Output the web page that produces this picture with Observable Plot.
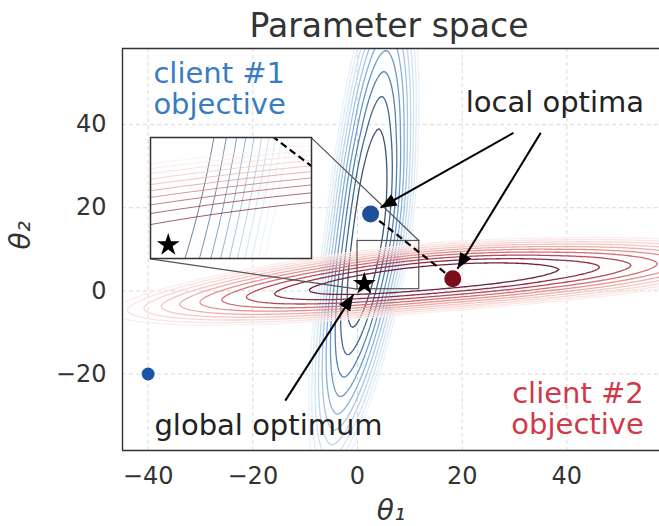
<!DOCTYPE html>
<html>
<head>
<meta charset="utf-8">
<script src="https://cdn.jsdelivr.net/npm/d3@7"></script>
<script src="https://cdn.jsdelivr.net/npm/@observablehq/plot@0.6"></script>
<style>
  body { margin: 0; background: #fff; }
  #wrap { position: relative; width: 659px; height: 526px; overflow: hidden; }
</style>
</head>
<body>
<div id="wrap"></div>
<script>
// ---- axes ----
const xDomain = [-44.9, 57.7];
const yDomain = [-38.4, 58.3];
const xTicks = [-40, -20, 0, 20, 40];
const yTicks = [-20, 0, 20, 40];

// ---- objective contours (levels and colours, inner -> outer) ----
const levels = [1, 1.63, 2.26, 2.89, 3.52, 4.15, 4.78, 5.41, 6.04, 6.67];
const client1Colors = ["#3b5676", "#426a93", "#5282b2", "#6a9bc9", "#86b2da", "#a3c6e5", "#bcd7ed", "#d0e3f3", "#deecf7", "#eaf2fa"];
const client2Colors = ["#6e2240", "#8d2f48", "#b44a5a", "#d26f75", "#e4918f", "#efaeaa", "#f5c6c2", "#f8d6d3", "#fae3e1", "#fcedec"];

// ---- shape of the two objectives ----
const client1Center = [2.1, 15.0];   // elongated along theta2
const client2Center = [14.5, 3.2];   // elongated along theta1
const majorSpread = [23.8, 0.0175, 23]; // sigma, stretch rate, stretch start
const minorSpread = [2.9, 1.8];          // sigma, exponent
const bend = [0.105, 0.035, 10];         // slope, curvature, width

// ---- points ----
const initialPoint = [[-40, -20]];
const localOptima = [[2.5, 18.5], [18.2, 2.9]];
const optimaColors = ["#1f4e9b", "#7a0c1e"];
const globalOptimum = [[1.3, 1.7]];

// ---- zoom box and inset placement (data coords) ----
const zoomX = [0, 11.8];
const zoomY = [0.4, 12];
const insetX = [-39.6, -8.8];
const insetY = [7.7, 36.8];

// ---- annotations ----
const arrowFrom = [[29.8, 38.0], [35.0, 38.0], [-13.8, -26.4]];
const arrowTo = [[4.4, 20.0], [19.1, 5.3], [-0.8, -0.9]];
const labels = ["client #1\nobjective", "client #2\nobjective", "local optima", "global optimum"];
const labelPos = [[-39.0, 48.6], [54.7, -28.3], [37.7, 45.3], [-17.0, -32.4]];
const labelAnchor = ["start", "end", "middle", "middle"];
const labelColors = ["#3a7cc2", "#d0394a", "#222", "#222"];

function objective(center, vertical) {
  const [s, rate, start] = majorSpread;
  const [sv, p] = minorSpread;
  const [m, d, w] = bend;
  return (x, y) => {
    const u = vertical ? y - center[1] : x - center[0];
    const v0 = vertical ? x - center[0] : y - center[1];
    const v = v0 - (m * u - d * (Math.hypot(u, w) - w));
    const g = (u / s) ** 2 - (u > start ? rate * (u - start) : 0);
    return g + Math.pow(Math.abs(v) / sv, p);
  };
}
const f1 = objective(client1Center, true);
const f2 = objective(client2Center, false);

function contours(f, colors, ext, sw, op) {
  return levels.map((l, i) => Plot.contour({
    x1: ext[0], x2: ext[1], y1: ext[2], y2: ext[3],
    value: f, thresholds: [l], fill: "none",
    stroke: colors[i], strokeWidth: sw, strokeOpacity: op, clip: true
  })).reverse();
}

const fmt = d => d < 0 ? "\u2212" + Math.abs(d) : String(d);
const zoomBox = [{x1: zoomX[0], x2: zoomX[1], y1: zoomY[0], y2: zoomY[1]}];
const connectors = [
  {x1: insetX[0], y1: insetY[0], x2: zoomX[0], y2: zoomY[0]},
  {x1: insetX[1], y1: insetY[1], x2: zoomX[1], y2: zoomY[1]}
];
const dashed = [{x1: localOptima[0][0], y1: localOptima[0][1], x2: localOptima[1][0], y2: localOptima[1][1]}];
const arrows = d3.zip(arrowFrom, arrowTo);
const annos = labels.map((t, i) => ({t, x: labelPos[i][0], y: labelPos[i][1], a: labelAnchor[i], c: labelColors[i]}));
// sample the objectives beyond the frame so that no contour closes along an edge
const extMain = [xDomain[0] - 15, xDomain[1] + 15, yDomain[0] - 15, yDomain[1] + 15];
const extZoom = [zoomX[0] - 3, zoomX[1] + 3, zoomY[0] - 3, zoomY[1] + 3];

const annoMarks = ["start", "middle", "end"].map(a => Plot.text(annos.filter(d => d.a === a), {
  x: "x", y: "y", text: "t", textAnchor: a, fill: "c", fontSize: 29, lineHeight: 1.07
}));

const mainPlot = Plot.plot({
  width: 659, height: 526,
  marginLeft: 122, marginRight: 0, marginTop: 48, marginBottom: 76,
  style: {fontFamily: "DejaVu Sans", background: "white", overflow: "visible"},
  x: {domain: xDomain, label: null},
  y: {domain: yDomain, label: null},
  marks: [
    Plot.gridX(xTicks, {stroke: "#cfcfcf", strokeOpacity: 1, strokeWidth: 0.8, strokeDasharray: "4,3"}),
    Plot.gridY(yTicks, {stroke: "#cfcfcf", strokeOpacity: 1, strokeWidth: 0.8, strokeDasharray: "4,3"}),
    ...contours(f1, client1Colors, extMain, 1.3, 1),
    ...contours(f2, client2Colors, extMain, 1.3, 1),
    Plot.rect(zoomBox, {x1: "x1", x2: "x2", y1: "y1", y2: "y2", fill: "none", stroke: "#555", strokeWidth: 1.2}),
    Plot.link(connectors, {x1: "x1", y1: "y1", x2: "x2", y2: "y2", stroke: "#555", strokeWidth: 1.2}),
    Plot.link(dashed, {x1: "x1", y1: "y1", x2: "x2", y2: "y2", stroke: "black", strokeWidth: 2.2, strokeDasharray: "7,4"}),
    Plot.dot(initialPoint, {x: d => d[0], y: d => d[1], r: 6.5, fill: "#1a55a6"}),
    Plot.dot(localOptima, {x: d => d[0], y: d => d[1], r: 8.5, fill: (d, i) => optimaColors[i]}),
    Plot.dot(globalOptimum, {x: d => d[0], y: d => d[1], r: 7.2, symbol: "star", fill: "black"}),
    Plot.link(arrows, {x1: d => d[0][0], y1: d => d[0][1], x2: d => d[1][0], y2: d => d[1][1], stroke: "black", strokeWidth: 2, markerEnd: "arrow"}),
    ...annoMarks,
    Plot.text(["Parameter space"], {frameAnchor: "top", lineAnchor: "middle", dx: -2, dy: -22, fontSize: 33, fill: "#333"}),
    Plot.text(["\u03b8\u2081"], {frameAnchor: "bottom", lineAnchor: "middle", dy: 61, fontSize: 28, fontStyle: "italic", fill: "#333"}),
    Plot.text(["\u03b8\u2082"], {frameAnchor: "left", dx: -101, rotate: -90, fontSize: 28, fontStyle: "italic", fill: "#333"}),
    Plot.axisX(xTicks, {tickSize: 0, tickPadding: 16, tickFormat: fmt, fontSize: 24, color: "#333", label: null}),
    Plot.axisY(yTicks, {tickSize: 0, tickPadding: 16, tickFormat: fmt, fontSize: 24, color: "#333", label: null}),
    Plot.ruleX([xDomain[0]], {stroke: "#333", strokeWidth: 1.4}),
    Plot.ruleY([yDomain[0], yDomain[1]], {stroke: "#333", strokeWidth: 1.4})
  ]
});

// filled arrow heads
mainPlot.querySelectorAll("marker").forEach(mk => {
  mk.setAttribute("markerUnits", "userSpaceOnUse");
  mk.setAttribute("viewBox", "-16 -7 17 14");
  mk.setAttribute("markerWidth", 17);
  mk.setAttribute("markerHeight", 14);
  mk.setAttribute("fill", "black");
  mk.setAttribute("stroke", "none");
  const p = mk.querySelector("path");
  if (p) p.setAttribute("d", "M-16,-6.5L0,0L-16,6.5Z");
});

const wrapEl = document.getElementById("wrap");
wrapEl.appendChild(mainPlot);

const xScaleMain = mainPlot.scale("x"), yScaleMain = mainPlot.scale("y");
const insetLeft = xScaleMain.apply(insetX[0]), insetRight = xScaleMain.apply(insetX[1]);
const insetTop = yScaleMain.apply(insetY[1]), insetBottom = yScaleMain.apply(insetY[0]);

const insetPlot = Plot.plot({
  width: Math.round(insetRight - insetLeft), height: Math.round(insetBottom - insetTop),
  margin: 0,
  style: {background: "white", overflow: "visible"},
  x: {domain: zoomX, axis: null},
  y: {domain: zoomY, axis: null},
  marks: [
    ...contours(f1, client1Colors, extZoom, 1, 0.75),
    ...contours(f2, client2Colors, extZoom, 1, 0.75),
    Plot.link(dashed, {x1: "x1", y1: "y1", x2: "x2", y2: "y2", stroke: "black", strokeWidth: 2.2, strokeDasharray: "7,4", clip: true}),
    Plot.dot(globalOptimum, {x: d => d[0], y: d => d[1], r: 7.2, symbol: "star", fill: "black"}),
    Plot.frame({stroke: "#333", strokeWidth: 1.5})
  ]
});
insetPlot.style.position = "absolute";
insetPlot.style.left = Math.round(insetLeft) + "px";
insetPlot.style.top = Math.round(insetTop) + "px";
wrapEl.appendChild(insetPlot);
</script>
</body>
</html>
